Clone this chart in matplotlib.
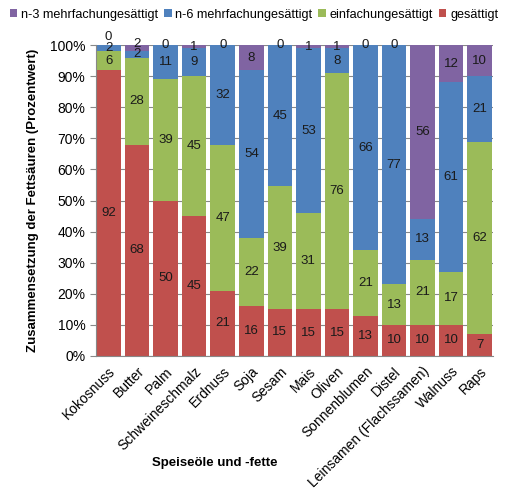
import numpy as np
import matplotlib.pyplot as plt

plt.rcParams['font.family'] = ['Liberation Sans', 'DejaVu Sans']

foods = ['Kokosnuss', 'Butter', 'Palm', 'Schweineschmalz', 'Erdnuss', 'Soja',
         'Sesam', 'Mais', 'Oliven', 'Sonnenblumen', 'Distel',
         'Leinsamen (Flachssamen)', 'Walnuss', 'Raps']
saturated = [92, 68, 50, 45, 21, 16, 15, 15, 15, 13, 10, 10, 10, 7]
mono = [6, 28, 39, 45, 47, 22, 39, 31, 76, 21, 13, 21, 17, 62]
n6 = [2, 2, 11, 9, 32, 54, 45, 53, 8, 66, 77, 13, 61, 21]
n3 = [0, 2, 0, 1, 0, 8, 0, 1, 1, 0, 0, 56, 12, 10]

series = [('gesättigt', saturated, '#C0504D'),
          ('einfachungesättigt', mono, '#9BBB59'),
          ('n-6 mehrfachungesättigt', n6, '#4F81BD'),
          ('n-3 mehrfachungesättigt', n3, '#8064A2')]

totals = np.sum([s[1] for s in series], axis=0)

fig = plt.figure(figsize=(5.08, 4.91), dpi=100)
ax = fig.add_axes([0.189, 0.275, 0.781, 0.633])

x = np.arange(len(foods))
width = 0.86
bottom = np.zeros(len(foods))
last_label = np.full(len(foods), -10.0)   # label y of the segment below
min_gap = 3.5                             # keep small labels from piling up
handles = []
for name, vals, col in series:
    vals = np.asarray(vals, dtype=float)
    pct = vals / totals * 100
    bars = ax.bar(x, pct, width, bottom=bottom, color=col, label=name, zorder=2)
    handles.append(bars)
    for i, (xi, b, p, v) in enumerate(zip(x, bottom, pct, vals)):
        y = max(b + p / 2, last_label[i] + min_gap)
        last_label[i] = y
        ax.text(xi, y, '%d' % v, ha='center', va='center', fontsize=9.5,
                color='#1a1a1a', zorder=3, clip_on=False)
    bottom += pct

ax.set_xlim(-width / 2 - 0.01, len(foods) - 1 + width / 2 + 0.03)
ax.set_ylim(0, 100)
ax.set_yticks(np.arange(0, 101, 10))
ax.set_yticklabels(['%d%%' % v for v in range(0, 101, 10)], fontsize=10)
ax.yaxis.grid(True, color='#888888', linewidth=0.8, zorder=0)
ax.set_xticks(x)
ax.set_xticklabels(foods, rotation=45, ha='right', rotation_mode='anchor', fontsize=10)
ax.tick_params(axis='x', length=0, pad=6)
ax.tick_params(axis='y', length=4, color='#888888')
for side in ['top', 'right']:
    ax.spines[side].set_visible(False)
ax.spines['left'].set_color('#888888')
ax.spines['bottom'].set_color('#888888')

ax.set_ylabel('Zusammensetzung der Fettsäuren (Prozentwert)', fontsize=9.5,
              fontweight='bold', labelpad=8)
ax.set_xlabel('Speiseöle und -fette', fontsize=9.5, fontweight='bold')
ax.xaxis.set_label_coords(0.30, -0.325)

fig.legend(handles[::-1], [s[0] for s in series][::-1], loc='upper center',
           bbox_to_anchor=(0.5, 1.005), ncol=4, frameon=False, fontsize=9.1,
           handlelength=0.6, handleheight=0.6, handletextpad=0.3, columnspacing=0.45)

fig.savefig('out.png', dpi=100)
